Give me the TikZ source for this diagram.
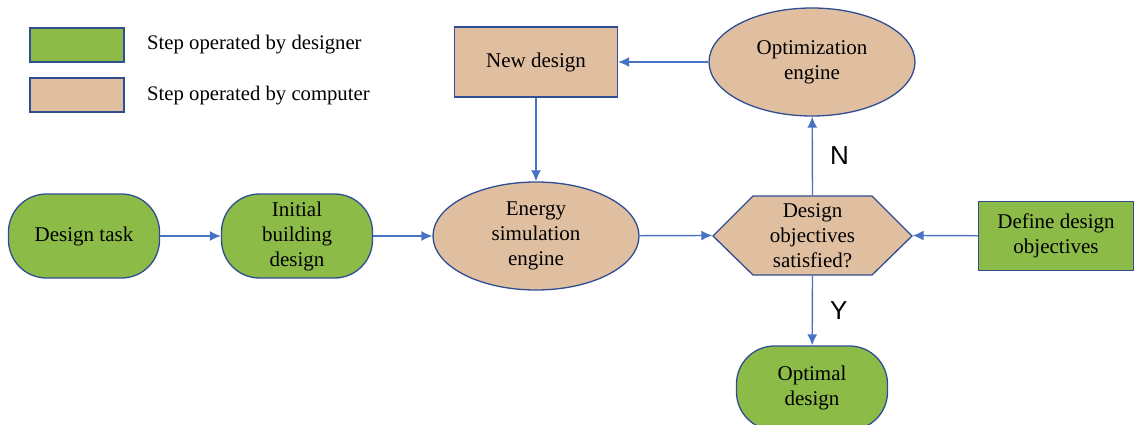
\documentclass[tikz,border=0pt]{standalone}
\usepackage{fontspec}
\setmainfont{Liberation Serif}
\newfontfamily\labfont{Liberation Sans}
\usetikzlibrary{shapes.geometric,arrows.meta}
\definecolor{dgreen}{RGB}{140,187,72}
\definecolor{dtan}{RGB}{223,191,160}
\definecolor{bord}{RGB}{47,78,145}
\definecolor{arr}{RGB}{72,114,196}
\tikzset{
  base/.style={draw=bord, line width=1.3pt, inner sep=0pt, align=center, font=\fontsize{21}{25}\selectfont, text=black},
  greenround/.style={base, fill=dgreen, rectangle, rounded corners=38pt, minimum width=151pt, minimum height=84pt},
  greenbox/.style={base, fill=dgreen, rectangle, minimum width=155pt, minimum height=69pt},
  tanbox/.style={base, fill=dtan, rectangle, minimum width=163pt, minimum height=70pt},
  tanell/.style={base, fill=dtan, ellipse, minimum width=206pt, minimum height=108pt},
  legbox/.style={draw=bord, line width=1.3pt, minimum width=94pt, minimum height=34pt, inner sep=0pt},
  legtext/.style={anchor=west, inner sep=0pt, font=\fontsize{20.7}{24}\selectfont},
  conn/.style={draw=arr, line width=1.4pt, -{Latex[length=11pt,width=10pt]}},
  yn/.style={font=\labfont\fontsize{26}{30}\selectfont, inner sep=0pt}
}
\begin{document}
\begin{tikzpicture}[x=1pt,y=-1pt]
\useasboundingbox (0,0) rectangle (1135,425);
% legend
\node[legbox, fill=dgreen] (lg) at (77,45) {};
\node[legbox, fill=dtan] (lt) at (77,95) {};
\node[legtext] (lgt) at (147,45) {Step operated by designer};
\node[legtext] (ltt) at (147,96) {Step operated by computer};
% nodes
\node[greenround] (task) at (84,236) {Design task};
\node[greenround] (init) at (297,236) {Initial\\building\\design};
\node[tanell] (sim) at (536,236) {Energy\\simulation\\engine};
\node[tanbox] (new) at (536,62) {New design};
\node[tanell] (opt) at (812,62) {Optimization\\engine};
% hexagon
\draw[draw=bord, line width=1.3pt, fill=dtan] (713,236) -- (753,196) -- (872,196) -- (912,236) -- (872,275) -- (753,275) -- cycle;
\node[base, draw=none, rectangle, minimum width=199pt, minimum height=79pt] (hex) at (812.5,235.5) {Design\\objectives\\satisfied?};
\node[greenround] (optd) at (812,388) {Optimal\\design};
\node[greenbox] (def) at (1056,236) {Define design\\objectives};
% connectors
\draw[conn] (task) -- (init);
\draw[conn] (init) -- (sim);
\draw[conn] (sim) -- (hex.west);
\draw[conn] (def) -- (hex.east);
\draw[conn] (hex.north) -- node[yn, right=17pt, pos=0.5] (nl) {N} (opt);
\draw[conn] (hex.south) -- node[yn, right=17pt, pos=0.5] (yl) {Y} (optd);
\draw[conn] (opt) -- (new);
\draw[conn] (new) -- (sim);
\end{tikzpicture}
\end{document}
